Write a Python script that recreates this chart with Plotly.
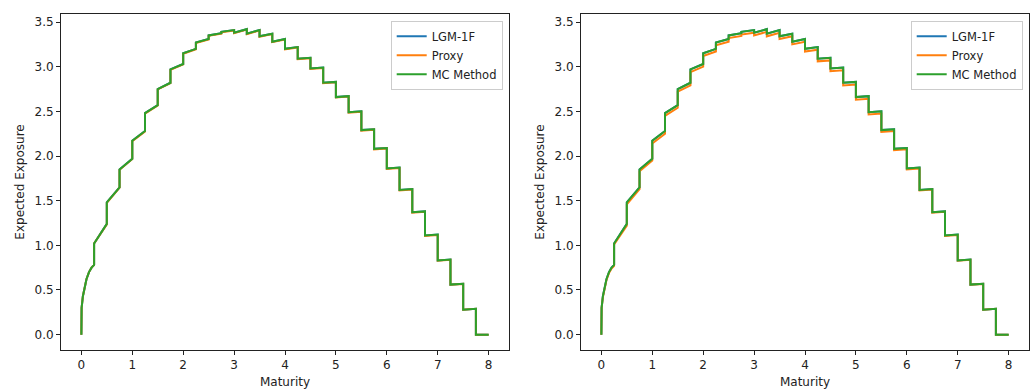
import plotly.graph_objects as go

# Maturity grid (duplicated at the quarterly reset dates -> vertical jumps)
maturity = [0, 0.005, 0.03, 0.06, 0.1, 0.15, 0.2, 0.25,
            0.25, 0.5, 0.5, 0.75, 0.75, 1.0, 1.0, 1.25, 1.25, 1.5, 1.5, 1.75,
            1.75, 2.0, 2.0, 2.25, 2.25, 2.5, 2.5, 2.75, 2.75, 3.0, 3.0, 3.25,
            3.25, 3.5, 3.5, 3.75, 3.75, 4.0, 4.0, 4.25, 4.25, 4.5, 4.5, 4.75,
            4.75, 5.0, 5.0, 5.25, 5.25, 5.5, 5.5, 5.75, 5.75, 6.0, 6.0, 6.25,
            6.25, 6.5, 6.5, 6.75, 6.75, 7.0, 7.0, 7.25, 7.25, 7.5, 7.5, 7.75,
            7.75, 8.0]

# Left panel
left_lgm = [0, 0.30, 0.43, 0.53, 0.62, 0.70, 0.75, 0.78,
            1.02, 1.24, 1.48, 1.65, 1.85, 1.97, 2.17, 2.28, 2.48, 2.57, 2.75, 2.82,
            2.97, 3.03, 3.15, 3.20, 3.27, 3.31, 3.35, 3.375, 3.39, 3.41, 3.38, 3.42,
            3.37, 3.41, 3.34, 3.37, 3.28, 3.31, 3.20, 3.22, 3.09, 3.10, 2.98, 2.99,
            2.82, 2.83, 2.66, 2.67, 2.49, 2.50, 2.29, 2.30, 2.08, 2.09, 1.86, 1.87,
            1.62, 1.63, 1.37, 1.38, 1.11, 1.12, 0.83, 0.84, 0.56, 0.57, 0.28, 0.29,
            0.0, 0.0]
left_proxy = [0, 0.30, 0.43, 0.53, 0.62, 0.70, 0.75, 0.78,
              1.02, 1.235, 1.475, 1.645, 1.845, 1.965, 2.165, 2.275, 2.475, 2.565, 2.745, 2.815,
              2.965, 3.025, 3.145, 3.195, 3.265, 3.305, 3.345, 3.37, 3.385, 3.405, 3.375, 3.415,
              3.365, 3.405, 3.335, 3.365, 3.275, 3.305, 3.195, 3.215, 3.085, 3.095, 2.975, 2.985,
              2.815, 2.825, 2.655, 2.665, 2.485, 2.495, 2.285, 2.295, 2.075, 2.085, 1.855, 1.865,
              1.615, 1.625, 1.365, 1.375, 1.105, 1.115, 0.828, 0.838, 0.558, 0.568, 0.28, 0.29,
              0.0, 0.0]
left_mc = [0, 0.30, 0.43, 0.53, 0.62, 0.70, 0.75, 0.78,
           1.02, 1.24, 1.48, 1.65, 1.85, 1.97, 2.17, 2.28, 2.48, 2.57, 2.75, 2.82,
           2.97, 3.03, 3.15, 3.20, 3.27, 3.31, 3.35, 3.375, 3.39, 3.41, 3.38, 3.42,
           3.37, 3.41, 3.34, 3.37, 3.28, 3.31, 3.20, 3.22, 3.09, 3.10, 2.98, 2.99,
           2.82, 2.83, 2.66, 2.67, 2.49, 2.50, 2.29, 2.30, 2.08, 2.09, 1.86, 1.87,
           1.62, 1.63, 1.37, 1.38, 1.11, 1.12, 0.83, 0.84, 0.56, 0.57, 0.28, 0.29,
           0.0, 0.0]

# Right panel
right_lgm = [0, 0.30, 0.43, 0.53, 0.62, 0.70, 0.75, 0.78,
             1.02, 1.24, 1.48, 1.65, 1.85, 1.97, 2.17, 2.28, 2.48, 2.57, 2.75, 2.82,
             2.97, 3.03, 3.15, 3.20, 3.27, 3.31, 3.35, 3.375, 3.39, 3.41, 3.38, 3.42,
             3.37, 3.41, 3.34, 3.37, 3.28, 3.31, 3.20, 3.22, 3.09, 3.10, 2.98, 2.99,
             2.82, 2.83, 2.66, 2.67, 2.49, 2.50, 2.29, 2.30, 2.08, 2.09, 1.86, 1.87,
             1.62, 1.63, 1.37, 1.38, 1.11, 1.12, 0.83, 0.84, 0.56, 0.57, 0.28, 0.29,
             0.0, 0.0]
right_proxy = [0, 0.30, 0.42, 0.52, 0.61, 0.69, 0.74, 0.77,
               1.01, 1.22, 1.46, 1.63, 1.83, 1.95, 2.14, 2.25, 2.45, 2.54, 2.72, 2.79,
               2.94, 3.00, 3.12, 3.17, 3.24, 3.28, 3.32, 3.345, 3.36, 3.38, 3.35, 3.39,
               3.34, 3.38, 3.31, 3.34, 3.25, 3.28, 3.17, 3.19, 3.06, 3.07, 2.95, 2.96,
               2.79, 2.80, 2.63, 2.64, 2.465, 2.475, 2.27, 2.28, 2.065, 2.075, 1.85, 1.86,
               1.615, 1.625, 1.365, 1.375, 1.105, 1.115, 0.828, 0.838, 0.558, 0.568, 0.28, 0.29,
               0.0, 0.0]
right_mc = [0, 0.30, 0.43, 0.53, 0.62, 0.70, 0.75, 0.78,
            1.02, 1.24, 1.48, 1.65, 1.85, 1.97, 2.17, 2.28, 2.48, 2.57, 2.75, 2.82,
            2.97, 3.03, 3.15, 3.20, 3.27, 3.31, 3.35, 3.375, 3.39, 3.41, 3.38, 3.42,
            3.37, 3.41, 3.34, 3.37, 3.28, 3.31, 3.20, 3.22, 3.09, 3.10, 2.98, 2.99,
            2.82, 2.83, 2.66, 2.67, 2.49, 2.50, 2.29, 2.30, 2.08, 2.09, 1.86, 1.87,
            1.62, 1.63, 1.37, 1.38, 1.11, 1.12, 0.83, 0.84, 0.56, 0.57, 0.28, 0.29,
            0.0, 0.0]

series_names = ["LGM-1F", "Proxy", "MC Method"]
colors = ["#1f77b4", "#ff7f0e", "#2ca02c"]
x_ticks = [0, 1, 2, 3, 4, 5, 6, 7, 8]
y_ticks = [0.0, 0.5, 1.0, 1.5, 2.0, 2.5, 3.0, 3.5]
y_tick_text = ["0.0", "0.5", "1.0", "1.5", "2.0", "2.5", "3.0", "3.5"]

FONT = "DejaVu Sans"
fig = go.Figure()

panels = [
    ("x", "y", "legend", [left_lgm, left_proxy, left_mc]),
    ("x2", "y2", "legend2", [right_lgm, right_proxy, right_mc]),
]
for xa, ya, leg, data in panels:
    for name, col, vals in zip(series_names, colors, data):
        fig.add_trace(go.Scatter(
            x=maturity, y=vals, mode="lines", name=name,
            line=dict(color=col, width=2),
            xaxis=xa, yaxis=ya, legend=leg,
        ))

W, H = 1031, 390
ml, mr, mt, mb = 61, 2, 14, 40
pw = W - ml - mr
ph = H - mt - mb

axis_common = dict(
    showline=True, linecolor="#222222", linewidth=1, mirror=True,
    ticks="outside", ticklen=4, tickwidth=1, tickcolor="#222222",
    showgrid=False, zeroline=False,
    tickfont=dict(family=FONT, size=12, color="#222222"),
)

left_dom = [0, 448 / pw]
right_dom = [520 / pw, 1]

legend_common = dict(
    xanchor="right", yanchor="top",
    bgcolor="rgba(255,255,255,0.8)", bordercolor="#cccccc", borderwidth=1,
    font=dict(family=FONT, size=11.5, color="#222222"), itemwidth=30,
    tracegroupgap=0,
)

fig.update_layout(
    width=W, height=H,
    margin=dict(l=ml, r=mr, t=mt, b=mb),
    paper_bgcolor="white", plot_bgcolor="white",
    font=dict(family=FONT, size=12, color="#222222"),
    xaxis=dict(domain=left_dom, range=[-0.4, 8.4], tickvals=x_ticks, anchor="y",
               title=dict(text="Maturity", font=dict(family=FONT, size=12), standoff=6),
               **axis_common),
    yaxis=dict(domain=[0, 1], range=[-0.172, 3.59], tickvals=y_ticks, ticktext=y_tick_text,
               anchor="x",
               title=dict(text="Expected Exposure", font=dict(family=FONT, size=12), standoff=7),
               **axis_common),
    xaxis2=dict(domain=right_dom, range=[-0.4, 8.4], tickvals=x_ticks, anchor="y2",
                title=dict(text="Maturity", font=dict(family=FONT, size=12), standoff=6),
                **axis_common),
    yaxis2=dict(domain=[0, 1], range=[-0.172, 3.59], tickvals=y_ticks, ticktext=y_tick_text,
                anchor="x2",
                title=dict(text="Expected Exposure", font=dict(family=FONT, size=12), standoff=7),
                **axis_common),
    legend=dict(x=(502.7 - ml) / pw, y=1 - (20.7 - mt) / ph, **legend_common),
    legend2=dict(x=(1022.7 - ml) / pw, y=1 - (20.7 - mt) / ph, **legend_common),
)

fig.write_html("out.html")
